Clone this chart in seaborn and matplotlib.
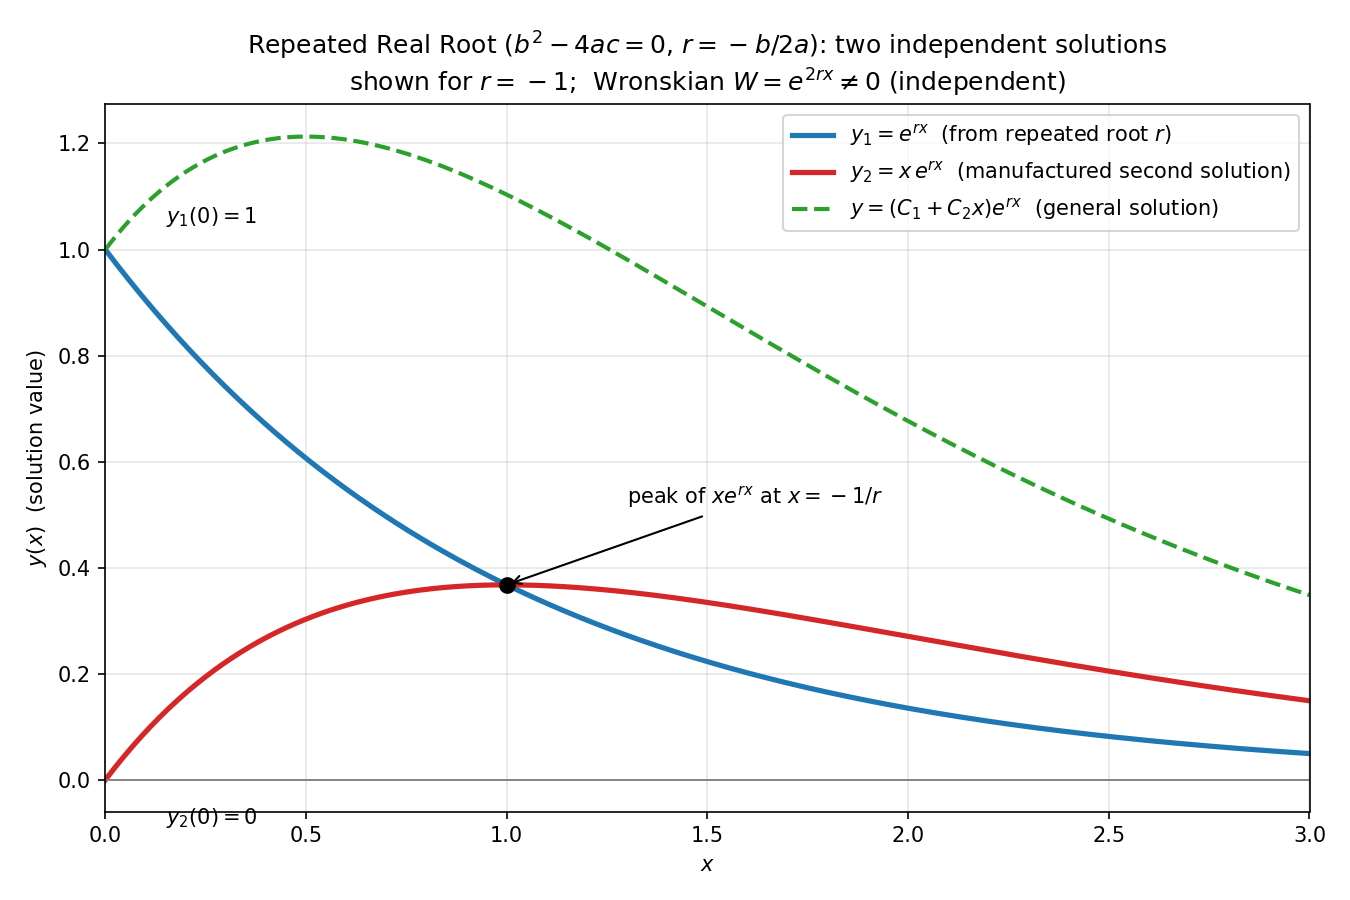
import numpy as np
import pandas as pd
import matplotlib
matplotlib.use("Agg")
import matplotlib.pyplot as plt
import seaborn as sns

# Parameters of the shown case
r = -1.0          # repeated root
C1 = 1.0          # general-solution constants
C2 = 2.0
x_min, x_max = 0.0, 3.0
n_points = 400

series_labels = [
    r"$y_1 = e^{rx}$  (from repeated root $r$)",
    r"$y_2 = x\,e^{rx}$  (manufactured second solution)",
    r"$y = (C_1 + C_2 x)e^{rx}$  (general solution)",
]
series_colors = ["#1f77b4", "#d62728", "#2ca02c"]

x = np.linspace(x_min, x_max, n_points)
y1 = np.exp(r * x)
y2 = x * np.exp(r * x)
yg = (C1 + C2 * x) * np.exp(r * x)

df = pd.DataFrame({
    "x": np.concatenate([x, x, x]),
    "y": np.concatenate([y1, y2, yg]),
    "series": np.repeat(series_labels, n_points),
})

fig, ax = plt.subplots(figsize=(9, 6), dpi=150)

sns.lineplot(data=df[df.series == series_labels[0]], x="x", y="y", color=series_colors[0],
             lw=2.5, ax=ax, label=series_labels[0])
sns.lineplot(data=df[df.series == series_labels[1]], x="x", y="y", color=series_colors[1],
             lw=2.5, ax=ax, label=series_labels[1])
sns.lineplot(data=df[df.series == series_labels[2]], x="x", y="y", color=series_colors[2],
             lw=2.0, ls="--", ax=ax, label=series_labels[2])

ax.axhline(0, color="gray", lw=0.9)

xp = -1.0 / r
yp = xp * np.exp(r * xp)
ax.plot([xp], [yp], "o", color="black", ms=7, zorder=5)
ax.annotate(r"peak of $xe^{rx}$ at $x=\:-\:1/r$", xy=(xp, yp), xytext=(1.3, 0.52),
            arrowprops=dict(arrowstyle="->", color="black", lw=1.0), fontsize=10)

ax.text(0.15, 1.05, r"$y_1(0)=1$", fontsize=10)
ax.text(0.15, -0.083, r"$y_2(0)=0$", fontsize=10)

ax.set_xlim(x_min, x_max)
ax.set_ylim(-0.06, 1.05 * yg.max())
ax.grid(True, alpha=0.3)
ax.set_xlabel(r"$x$")
ax.set_ylabel(r"$y(x)$  (solution value)")
ax.set_title(r"Repeated Real Root ($b^2-4ac=0$, $r=\:-\:b/2a$): two independent solutions"
             "\n" r"shown for $r=\:-\:1$;  Wronskian $W=e^{2rx}\neq 0$ (independent)",
             fontsize=12)
ax.legend(loc="upper right", fontsize=10)

fig.subplots_adjust(left=0.078, right=0.970, top=0.884, bottom=0.098)
fig.savefig("out.png", dpi=150)
